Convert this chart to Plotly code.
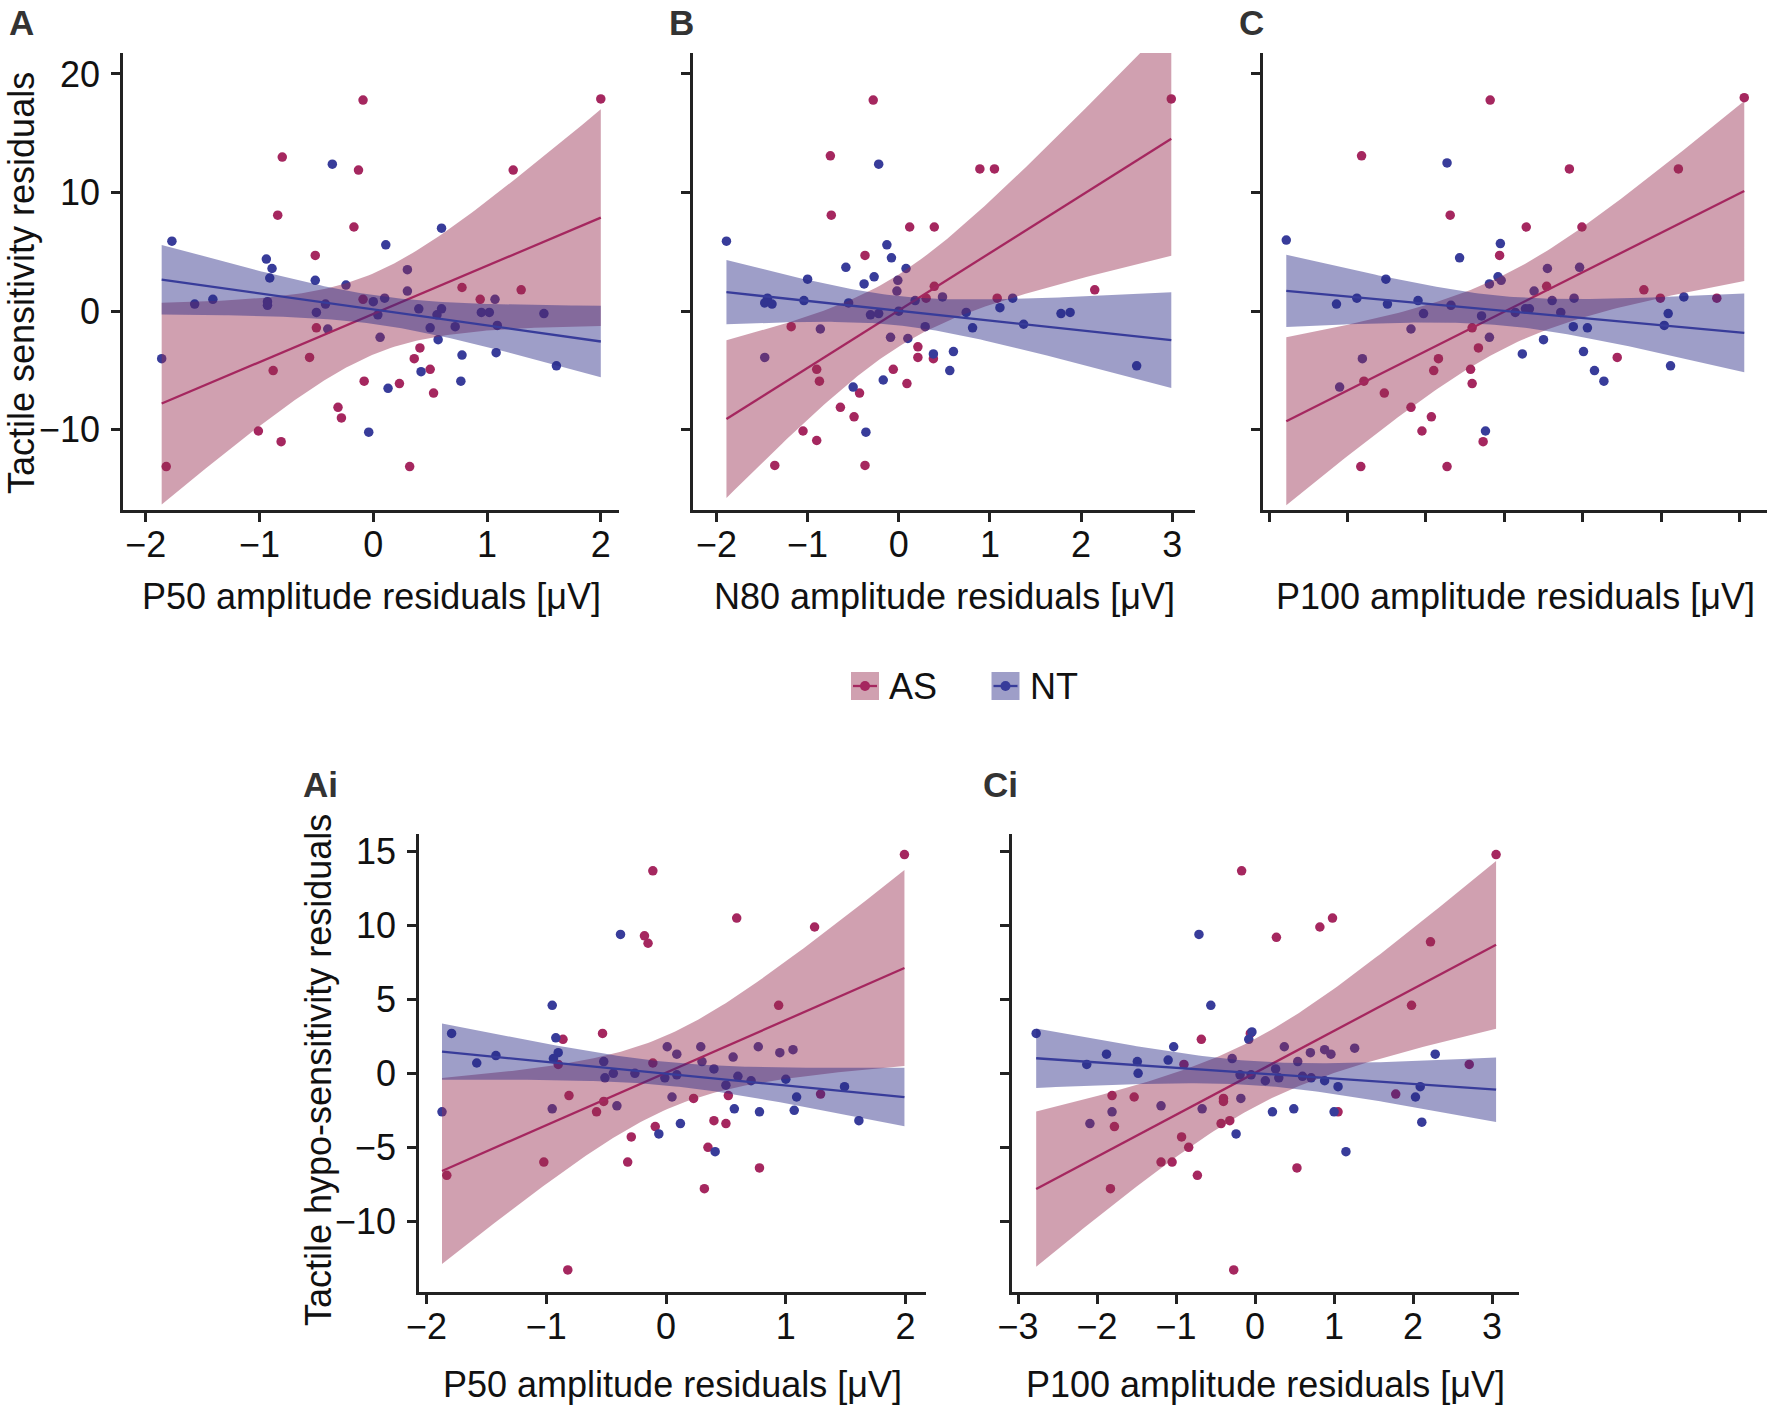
import numpy as np
import plotly.graph_objects as go

# ---------------- data ----------------
# Panel A: P50 amplitude residuals vs tactile sensitivity residuals
A_AS_X = [-0.09, 2.00, -0.80, -0.13, 1.23, -0.84, -0.17, -0.51, 0.78, 1.30, -0.09, 0.94, -0.50, -0.56,
          0.41, 0.36, 0.50, -0.88, -0.08, 0.23, 0.53, -0.31, -0.28, -1.01, -0.81, -1.82, 0.32]
A_AS_Y = [17.8, 17.9, 13.0, 11.9, 11.9, 8.1, 7.1, 4.7, 2.0, 1.8, 1.0, 1.0, -1.4, -3.9,
          -3.1, -4.0, -4.9, -5.0, -5.9, -6.1, -6.9, -8.1, -9.0, -10.1, -11.0, -13.1, -13.1]
A_NT_X = [-0.36, 0.60, -1.77, 0.11, -0.94, -0.89, -0.91, -0.51, -0.24, -1.41, -1.57, -0.93, -0.93, 0.30,
          0.30, 0.10, 0.00, -0.42, -0.50, 0.04, 0.40, 0.60, 0.56, -0.40, 0.06, 0.50, 0.72, 0.57,
          0.78, 1.07, 0.95, 1.02, 1.09, 1.08, 1.50, 0.42, 0.77, 0.13, 1.61, -0.04, -1.86]
A_NT_Y = [12.4, 7.0, 5.9, 5.6, 4.4, 3.6, 2.8, 2.6, 2.2, 1.0, 0.6, 0.8, 0.5, 3.5,
          1.7, 1.1, 0.8, 0.6, -0.1, -0.3, 0.2, 0.2, -0.3, -1.5, -2.2, -1.4, -1.3, -2.4,
          -3.7, 1.0, -0.1, -0.1, -1.2, -3.5, -0.2, -5.1, -5.9, -6.5, -4.6, -10.2, -4.0]

# Panel B: N80 amplitude residuals vs tactile sensitivity residuals
B_AS_X = [-0.28, 2.99, -0.75, 0.89, 1.05, -0.74, 0.12, 0.39, -0.37, 0.39, 0.30, 1.08, 2.15, -1.18,
          0.21, 0.21, 0.38, -0.90, -0.06, -0.87, 0.09, -0.43, -0.64, -0.49, -1.05, -0.90, -1.36, -0.37]
B_AS_Y = [17.8, 17.9, 13.1, 12.0, 12.0, 8.1, 7.1, 7.1, 4.7, 2.1, 1.1, 1.1, 1.8, -1.3,
          -3.0, -3.9, -4.0, -4.9, -4.9, -5.9, -6.1, -6.9, -8.1, -8.9, -10.1, -10.9, -13.0, -13.0]
B_NT_X = [-0.22, -1.89, -0.13, -0.08, -0.58, 0.08, -0.27, -1.00, -0.38, -0.01, -0.02, -1.44, -1.47, -1.39,
          -1.04, -0.55, 0.18, 0.48, 1.25, -0.31, -0.22, 0.00, 0.74, 1.11, 1.78, 1.88, 1.37, 0.81,
          0.29, -0.86, -1.47, -0.09, 0.10, 0.38, 0.60, 0.56, -0.17, -0.50, -0.36, 2.61]
B_NT_Y = [12.4, 5.9, 5.6, 4.5, 3.7, 3.6, 2.9, 2.7, 2.3, 2.6, 1.7, 1.1, 0.7, 0.6,
          0.9, 0.7, 0.9, 1.2, 1.1, -0.3, -0.2, 0.0, -0.1, 0.3, -0.2, -0.1, -1.1, -1.4,
          -1.3, -1.5, -3.9, -2.2, -2.3, -3.6, -3.4, -5.0, -5.8, -6.4, -10.2, -4.6]

# Panel C: P100 amplitude residuals vs tactile sensitivity residuals
C_AS_X = [-0.18, 3.06, -1.82, 0.83, 2.22, -0.69, 0.28, 0.99, -0.06, 1.78, 0.54, 1.99, 2.71, -0.41,
          -0.33, -0.84, -0.90, -0.43, 1.44, -1.79, -0.41, -1.53, -1.19, -0.93, -1.05, -0.27, -1.83, -0.73]
C_AS_Y = [17.8, 18.0, 13.1, 12.0, 12.0, 8.1, 7.1, 7.1, 4.7, 1.8, 2.1, 1.1, 1.1, -1.4,
          -3.1, -4.0, -5.0, -4.9, -3.9, -5.9, -6.1, -6.9, -8.1, -8.9, -10.1, -11.0, -13.1, -13.1]
C_NT_X = [-0.73, -2.78, -0.05, -0.57, -1.51, -0.08, -0.19, -0.04, 0.55, 0.96, 0.38, -1.88, -2.14, -1.49,
          -1.10, -0.68, -1.03, -1.19, -0.29, 0.14, 0.27, 0.32, 0.61, 0.72, 0.89, 0.88, 1.06, -0.19,
          -1.81, -2.10, 0.50, 0.23, 1.01, 1.15, 1.27, 2.29, 2.09, 2.04, 2.12, -0.24]
C_NT_Y = [12.5, 6.0, 5.7, 4.5, 2.7, 2.9, 2.3, 2.6, 3.6, 3.7, 1.7, 1.1, 0.6, 0.6,
          0.9, 0.5, -0.2, -1.5, -0.4, -0.1, 0.2, 0.2, 0.9, -0.1, 1.1, -1.3, -1.4, -2.2,
          -4.0, -6.4, -2.4, -3.6, -3.4, -5.0, -5.9, 1.2, -0.2, -1.2, -4.6, -10.1]

# Panel Ai: P50 amplitude residuals vs tactile hypo-sensitivity residuals
AI_AS_X = [1.99, -0.11, 0.59, 1.24, -0.18, -0.15, 0.94, -0.53, -0.86, -0.11, -0.81, -0.52, 0.23, 0.52,
           1.29, -0.58, -0.09, 0.40, 0.50, -0.29, 0.35, -1.02, -0.32, 0.78, -1.83, 0.32, -0.82, -0.90]
AI_AS_Y = [14.8, 13.7, 10.5, 9.9, 9.3, 8.8, 4.6, 2.7, 2.3, 0.7, -1.5, -1.9, -1.7, -1.5,
           -1.4, -2.6, -3.6, -3.2, -3.4, -4.3, -5.0, -6.0, -6.0, -6.4, -6.9, -7.8, -13.3, 0.6]
AI_NT_X = [-0.38, -0.95, -1.79, -0.92, -1.42, -0.90, -1.58, -0.94, 0.01, 0.09, 0.29, 0.30, 0.40, -0.52,
           -0.51, -0.44, -0.26, -0.01, 0.09, 0.56, 0.77, 0.95, 1.06, 0.60, 0.71, 0.50, 1.00, 1.09,
           1.07, 0.57, 0.78, 1.49, 1.61, 0.05, -0.95, -0.41, -1.87, -0.06, 0.12, 0.41]
AI_NT_Y = [9.4, 4.6, 2.7, 2.4, 1.2, 1.4, 0.7, 1.0, 1.8, 1.3, 1.8, 0.8, 0.3, 0.8,
           -0.3, 0.0, 0.0, -0.3, -0.1, 1.1, 1.8, 1.4, 1.6, -0.2, -0.5, -0.8, -0.4, -1.6,
           -2.5, -2.4, -2.6, -0.9, -3.2, -1.6, -2.4, -2.2, -2.6, -4.1, -3.4, -5.3]

# Panel Ci: P100 amplitude residuals vs tactile hypo-sensitivity residuals
CI_AS_X = [3.05, -0.17, 0.98, 0.82, 0.27, 2.22, 1.98, -0.68, -0.06, -0.90, 2.71, -1.81, -1.53, -0.40,
           -0.40, 1.78, 1.05, -1.78, -0.43, -0.32, -0.93, -0.84, -1.19, -1.05, 0.53, -0.73, -1.83, -0.27]
CI_AS_Y = [14.8, 13.7, 10.5, 9.9, 9.2, 8.9, 4.6, 2.3, 2.7, 0.6, 0.6, -1.5, -1.6, -1.7,
           -1.9, -1.4, -2.6, -3.6, -3.4, -3.2, -4.3, -5.0, -6.0, -6.0, -6.4, -6.9, -7.8, -13.3]
CI_NT_X = [-0.71, -0.56, -2.77, -0.04, -0.08, -1.03, -1.88, -2.13, -1.49, -1.10, -1.48, 0.37, 0.70, 0.88,
           0.96, 1.26, -0.29, 0.54, 0.26, -0.19, -0.05, 0.13, 0.30, 0.60, 0.71, 0.88, 1.05, 2.09,
           2.03, 2.28, -0.18, -1.19, -0.67, -1.81, -2.09, 0.22, 0.49, 1.00, 2.11, -0.24, 1.15]
CI_NT_Y = [9.4, 4.6, 2.7, 2.8, 2.3, 1.8, 1.3, 0.6, 0.8, 0.9, 0.0, 1.8, 1.4, 1.6,
           1.3, 1.7, 1.0, 0.8, 0.3, -0.1, -0.1, -0.5, -0.3, -0.2, -0.3, -0.5, -0.9, -0.9,
           -1.6, 1.3, -1.7, -2.2, -2.4, -2.6, -3.4, -2.6, -2.4, -2.6, -3.3, -4.1, -5.3]

# tick values / labels
X_TICKS_P50 = [-2, -1, 0, 1, 2]
X_TICKS_N80 = [-2, -1, 0, 1, 2, 3]
X_TICKS_P100 = [-3, -2, -1, 0, 1, 2, 3]
Y_TICKS_SENS = [-10, 0, 10, 20]
Y_TICKS_HYPO = [-10, -5, 0, 5, 10, 15]
GROUPS = ["AS", "NT"]
X_TITLES = ["P50 amplitude residuals [μV]", "N80 amplitude residuals [μV]", "P100 amplitude residuals [μV]",
            "P50 amplitude residuals [μV]", "P100 amplitude residuals [μV]"]
Y_TITLES = ["Tactile sensitivity residuals", "Tactile hypo-sensitivity residuals"]
PANEL_LABELS = ["A", "B", "C", "Ai", "Ci"]

# ---------------- styling ----------------
W, H = 1770, 1406
FONT = "Liberation Sans, Arial, Helvetica, sans-serif"
FS = 36
AS_COL = "#A5275F"
NT_COL = "#383C9A"
AS_FILL = "rgba(151,44,80,0.45)"
NT_FILL = "rgba(40,40,134,0.45)"
AXIS_COL = "#222222"
TXT_COL = "#111111"


def px_x(p):
    return p / W


def px_y(p):
    return 1 - p / H


def t_crit(df, z=1.959964):
    g1 = (z ** 3 + z) / 4
    g2 = (5 * z ** 5 + 16 * z ** 3 + 3 * z) / 96
    g3 = (3 * z ** 7 + 19 * z ** 5 + 17 * z ** 3 - 15 * z) / 384
    return z + g1 / df + g2 / df ** 2 + g3 / df ** 3


def lm_band(x, y, grid):
    x = np.asarray(x, float)
    y = np.asarray(y, float)
    n = len(x)
    xm, ym = x.mean(), y.mean()
    sxx = ((x - xm) ** 2).sum()
    b = ((x - xm) * (y - ym)).sum() / sxx
    a = ym - b * xm
    s = np.sqrt(((y - (a + b * x)) ** 2).sum() / (n - 2))
    fit = a + b * grid
    half = t_crit(n - 2) * s * np.sqrt(1 / n + (grid - xm) ** 2 / sxx)
    return fit, fit - half, fit + half


panels = [
    dict(d=(A_AS_X, A_AS_Y, A_NT_X, A_NT_Y), xt=X_TICKS_P50, yt=Y_TICKS_SENS, xr=[-2.2, 2.16],
         yr=[-16.76, 21.77], xd=(123, 619), yd=(53, 510), sxl=True, syl=True),
    dict(d=(B_AS_X, B_AS_Y, B_NT_X, B_NT_Y), xt=X_TICKS_N80, yt=Y_TICKS_SENS, xr=[-2.257, 3.25],
         yr=[-16.76, 21.77], xd=(693, 1195), yd=(53, 510), sxl=True, syl=False),
    dict(d=(C_AS_X, C_AS_Y, C_NT_X, C_NT_Y), xt=X_TICKS_P100, yt=Y_TICKS_SENS, xr=[-3.077, 3.35],
         yr=[-16.76, 21.77], xd=(1263, 1767), yd=(53, 510), sxl=False, syl=False),
    dict(d=(AI_AS_X, AI_AS_Y, AI_NT_X, AI_NT_Y), xt=X_TICKS_P50, yt=Y_TICKS_HYPO, xr=[-2.062, 2.17],
         yr=[-14.79, 16.19], xd=(419, 926), yd=(834, 1292), sxl=True, syl=True),
    dict(d=(CI_AS_X, CI_AS_Y, CI_NT_X, CI_NT_Y), xt=X_TICKS_P100, yt=Y_TICKS_HYPO, xr=[-3.076, 3.34],
         yr=[-14.79, 16.19], xd=(1012, 1519), yd=(834, 1292), sxl=True, syl=False),
]

fig = go.Figure()
layout = {}
for i, p in enumerate(panels):
    k = "" if i == 0 else str(i + 1)
    xa, ya = "x" + k, "y" + k
    asx, asy, ntx, nty = p["d"]
    allx = np.array(list(asx) + list(ntx), float)
    grid = np.linspace(allx.min(), allx.max(), 120)
    # points first (the ribbons are drawn over them, as in the original)
    fig.add_trace(go.Scatter(x=asx, y=asy, mode="markers", xaxis=xa, yaxis=ya, showlegend=False,
                             marker=dict(color=AS_COL, size=9.5, line=dict(width=0))))
    fig.add_trace(go.Scatter(x=ntx, y=nty, mode="markers", xaxis=xa, yaxis=ya, showlegend=False,
                             marker=dict(color=NT_COL, size=9.5, line=dict(width=0))))
    for gx, gy, fc, lc in ((asx, asy, AS_FILL, AS_COL), (ntx, nty, NT_FILL, NT_COL)):
        fit, lo, hi = lm_band(gx, gy, grid)
        fig.add_trace(go.Scatter(x=np.concatenate([grid, grid[::-1]]), y=np.concatenate([hi, lo[::-1]]),
                                 mode="lines", fill="toself", fillcolor=fc, line=dict(width=0),
                                 xaxis=xa, yaxis=ya, showlegend=False, hoverinfo="skip"))
        fig.add_trace(go.Scatter(x=grid, y=fit, mode="lines", line=dict(color=lc, width=2.3),
                                 xaxis=xa, yaxis=ya, showlegend=False))
    common = dict(showline=True, linecolor=AXIS_COL, linewidth=2.6, showgrid=False, zeroline=False,
                  automargin=False, tickfont=dict(family=FONT, size=FS, color=TXT_COL))
    # x: tick marks drawn as minor ticks so the labels sit close to the axis as in the original
    layout["xaxis" + k] = dict(common, domain=[px_x(p["xd"][0]), px_x(p["xd"][1])], range=p["xr"],
                               tickvals=p["xt"], showticklabels=p["sxl"], anchor=ya,
                               ticks="outside", ticklen=1, tickwidth=0.01, tickcolor="rgba(0,0,0,0)",
                               minor=dict(tickvals=p["xt"], ticks="outside", ticklen=9, tickwidth=2.6,
                                          tickcolor=AXIS_COL, showgrid=False))
    layout["yaxis" + k] = dict(common, domain=[px_y(p["yd"][1]), px_y(p["yd"][0])], range=p["yr"],
                               tickvals=p["yt"], showticklabels=p["syl"], anchor=xa,
                               ticks="outside", ticklen=9, tickwidth=2.6, tickcolor=AXIS_COL,
                               ticklabelstandoff=4)

annotations = []
xt_pos = [(371, 596), (944, 596), (1515, 596), (672, 1384), (1265, 1384)]
for (cx, cy), t in zip(xt_pos, X_TITLES):
    annotations.append(dict(x=px_x(cx), y=px_y(cy), xref="paper", yref="paper", text=t, showarrow=False,
                            xanchor="center", yanchor="middle", font=dict(family=FONT, size=FS, color=TXT_COL)))
for (cx, cy), t in zip([(22, 283), (318, 1070)], Y_TITLES):
    annotations.append(dict(x=px_x(cx), y=px_y(cy), xref="paper", yref="paper", text=t, showarrow=False,
                            textangle=-90, xanchor="center", yanchor="middle",
                            font=dict(family=FONT, size=FS, color=TXT_COL)))
for (cx, cy), t in zip([(21, 22), (681, 22), (1251, 22), (320, 784), (1000, 784)], PANEL_LABELS):
    annotations.append(dict(x=px_x(cx), y=px_y(cy), xref="paper", yref="paper", text="<b>" + t + "</b>",
                            showarrow=False, xanchor="center", yanchor="middle",
                            font=dict(family=FONT, size=35, color="#333333")))

# legend (drawn manually to reproduce ggplot key: filled box + line + point)
shapes = []
for (cx, cy), g, fc, lc in zip([(865, 686), (1005.5, 686)], GROUPS, [AS_FILL, NT_FILL], [AS_COL, NT_COL]):
    shapes.append(dict(type="rect", xref="paper", yref="paper", x0=px_x(cx - 14), x1=px_x(cx + 14),
                       y0=px_y(cy + 14), y1=px_y(cy - 14), fillcolor=fc, line=dict(width=0), layer="above"))
    shapes.append(dict(type="line", xref="paper", yref="paper", x0=px_x(cx - 12), x1=px_x(cx + 12),
                       y0=px_y(cy), y1=px_y(cy), line=dict(color=lc, width=2.3), layer="above"))
    shapes.append(dict(type="circle", xref="paper", yref="paper", x0=px_x(cx - 5), x1=px_x(cx + 5),
                       y0=px_y(cy + 5), y1=px_y(cy - 5), fillcolor=lc, line=dict(width=0), layer="above"))
    annotations.append(dict(x=px_x(cx + 22), y=px_y(cy + 1), xref="paper", yref="paper", text=g,
                            showarrow=False, xanchor="left", yanchor="middle",
                            font=dict(family=FONT, size=FS, color=TXT_COL)))

fig.update_layout(width=W, height=H, margin=dict(l=0, r=0, t=0, b=0, autoexpand=False),
                  paper_bgcolor="white", plot_bgcolor="white", showlegend=False,
                  annotations=annotations, shapes=shapes, font=dict(family=FONT), **layout)
# the page's default body margin would shift the 1770x1406 figure; remove it
fig.write_html("out.html", config={"displayModeBar": False},
               post_script="document.body.style.margin='0px';"
                           "document.documentElement.style.overflow='hidden';")
